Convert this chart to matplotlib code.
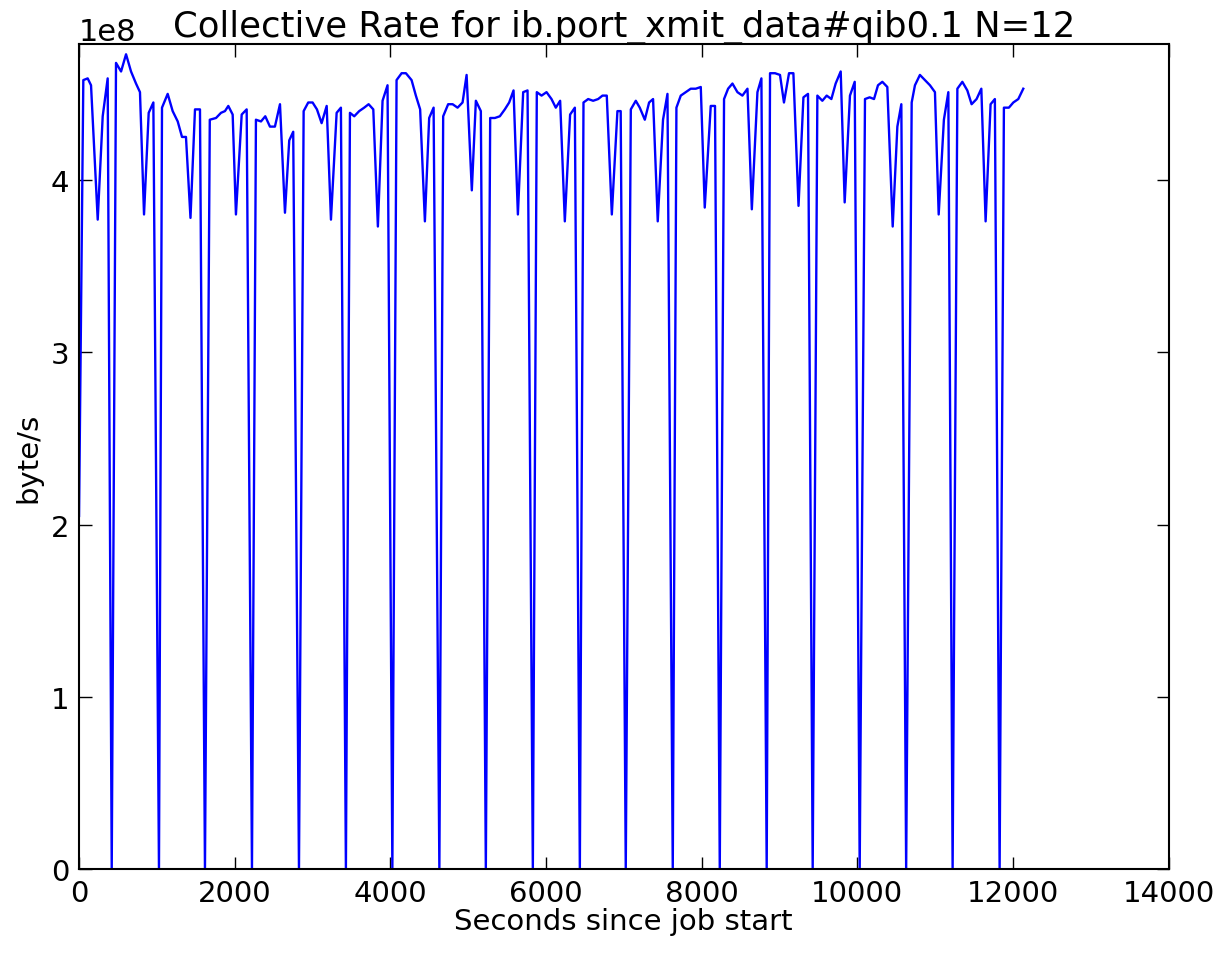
"""
Collective transmit rate (ib.port_xmit_data#qib0.1) over the job, N=12 nodes.
Output: out.png
"""

import matplotlib
matplotlib.use("Agg")
import matplotlib.pyplot as plt
import numpy as np

TITLE = "Collective Rate for ib.port_xmit_data#qib0.1 N=12"
XLABEL = "Seconds since job start"
YLABEL = "byte/s"

# seconds since job start
times = [
    0, 55, 111, 154, 240, 304, 368, 420, 475, 540, 604, 668, 732, 783, 835,
    895, 955, 1027, 1066, 1139, 1203, 1268, 1323, 1374, 1432, 1490, 1554,
    1618, 1680, 1760, 1824, 1875, 1918, 1974, 2016, 2090, 2154, 2222, 2273,
    2338, 2393, 2453, 2517, 2582, 2646, 2701, 2752, 2826, 2886, 2945, 3001,
    3057, 3117, 3182, 3237, 3310, 3365, 3429, 3481, 3536, 3600, 3664, 3721,
    3781, 3840, 3900, 3964, 4026, 4080, 4145, 4200, 4273, 4328, 4383, 4444,
    4499, 4556, 4630, 4679, 4743, 4800, 4864, 4928, 4980, 5047, 5099, 5163,
    5227, 5283, 5343, 5407, 5471, 5527, 5583, 5639, 5707, 5763, 5831, 5882,
    5943, 6007, 6071, 6126, 6182, 6242, 6310, 6371, 6435, 6482, 6542, 6606,
    6670, 6726, 6781, 6846, 6918, 6960, 7025, 7090, 7154, 7205, 7270, 7325,
    7376, 7436, 7504, 7561, 7629, 7676, 7732, 7796, 7860, 7925, 7989, 8040,
    8117, 8172, 8233, 8288, 8340, 8396, 8460, 8524, 8589, 8645, 8717, 8768,
    8836, 8879, 8943, 9007, 9058, 9123, 9179, 9245, 9308, 9367, 9427, 9487,
    9551, 9607, 9667, 9722, 9787, 9838, 9906, 9967, 10031, 10099, 10159,
    10215, 10266, 10322, 10386, 10455, 10515, 10566, 10628, 10699, 10741,
    10805, 10870, 10934, 10998, 11046, 11113, 11170, 11225, 11286, 11350,
    11414, 11469, 11533, 11594, 11649, 11713, 11768, 11829, 11884, 11948,
    12005, 12069, 12133,
]

# rate in units of 1e8 byte/s
rates_e8 = [
    2.05, 4.58, 4.59, 4.55, 3.77, 4.37, 4.59, 0, 4.68, 4.63, 4.73, 4.63, 4.56,
    4.51, 3.80, 4.39, 4.45, 0, 4.42, 4.50, 4.40, 4.34, 4.25, 4.25, 3.78, 4.41,
    4.41, 0, 4.35, 4.36, 4.39, 4.40, 4.43, 4.38, 3.80, 4.38, 4.41, 0, 4.35,
    4.34, 4.37, 4.31, 4.31, 4.44, 3.81, 4.23, 4.28, 0, 4.40, 4.45, 4.45, 4.41,
    4.33, 4.43, 3.77, 4.39, 4.42, 0, 4.39, 4.37, 4.40, 4.42, 4.44, 4.41, 3.73,
    4.46, 4.55, 0, 4.58, 4.62, 4.62, 4.58, 4.49, 4.41, 3.76, 4.36, 4.42, 0,
    4.37, 4.44, 4.44, 4.42, 4.45, 4.61, 3.94, 4.46, 4.40, 0, 4.36, 4.36, 4.37,
    4.41, 4.45, 4.52, 3.80, 4.51, 4.52, 0, 4.51, 4.49, 4.51, 4.47, 4.42, 4.46,
    3.76, 4.38, 4.42, 0, 4.45, 4.47, 4.46, 4.47, 4.49, 4.49, 3.80, 4.40, 4.40,
    0, 4.41, 4.46, 4.42, 4.35, 4.45, 4.47, 3.76, 4.35, 4.50, 0, 4.42, 4.49,
    4.51, 4.53, 4.53, 4.54, 3.84, 4.43, 4.43, 0, 4.47, 4.53, 4.56, 4.51, 4.49,
    4.53, 3.83, 4.51, 4.59, 0, 4.62, 4.62, 4.61, 4.45, 4.62, 4.62, 3.85, 4.48,
    4.50, 0, 4.49, 4.46, 4.49, 4.47, 4.56, 4.63, 3.87, 4.49, 4.57, 0, 4.47,
    4.48, 4.47, 4.55, 4.57, 4.54, 3.73, 4.31, 4.44, 0, 4.45, 4.55, 4.61, 4.58,
    4.55, 4.51, 3.80, 4.35, 4.51, 0, 4.53, 4.57, 4.52, 4.44, 4.47, 4.53, 3.76,
    4.44, 4.47, 0, 4.42, 4.42, 4.45, 4.47, 4.53,
]


def main():
    t = np.asarray(times, dtype=float)
    r = np.asarray(rates_e8, dtype=float) * 1e8

    fig = plt.figure(figsize=(12.16, 9.62), dpi=100)
    ax = fig.add_axes([0.065, 0.0956, 0.896, 0.8577])

    ax.plot(t, r, color="blue", lw=1.7)

    ax.set_xlim(0, 14000)
    ax.set_ylim(0, 4.79e8)
    ax.set_xticks(np.arange(0, 14001, 2000))
    ax.set_yticks(np.arange(0, 4.01e8, 1e8))

    ax.set_title(TITLE, fontsize=25.5, pad=6)
    ax.set_xlabel(XLABEL, fontsize=21, labelpad=0)
    ax.set_ylabel(YLABEL, fontsize=21, labelpad=6)

    ax.tick_params(direction="in", top=True, right=True, length=9, width=1,
                   labelsize=21, pad=7)
    ax.yaxis.get_offset_text().set_fontsize(22)
    for s in ax.spines.values():
        s.set_linewidth(1.5)

    fig.savefig("out.png", dpi=100)


if __name__ == "__main__":
    main()
